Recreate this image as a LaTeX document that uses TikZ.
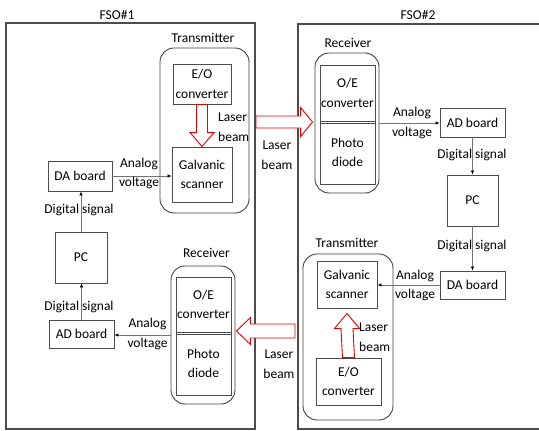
\documentclass[tikz,border=0pt]{standalone}
\usepackage{fontspec}
\setmainfont{Carlito}
\usetikzlibrary{arrows.meta,calc}
\begin{document}
\begin{tikzpicture}[x=1pt,y=-1pt,
  font=\fontsize{13.5}{19.5}\selectfont,
  frame/.style={draw=black!70,line width=1.2pt},
  box/.style={draw=black!70,line width=0.9pt,align=center,inner sep=0pt},
  rbox/.style={draw=black!75,line width=0.9pt,rounded corners=14pt,inner sep=0pt},
  lbl/.style={align=center,inner sep=0pt},
  lbll/.style={align=left,inner sep=0pt,anchor=west},
  conn/.style={draw=black!55,line width=0.6pt,-{Latex[length=4pt,width=3.5pt,black]}},
  beam/.style={draw=red!90!black,line width=0.9pt,fill=white,line join=miter}
]
\useasboundingbox (0,0) rectangle (539,431);
\clip (0,0) rectangle (539,431);

% FSO frames
\node[frame,minimum width=249,minimum height=406,inner sep=0pt] (fso1) at (130.5,226) {};
\node[frame,minimum width=260,minimum height=405,inner sep=0pt] (fso2) at (428,226.5) {};
\node[lbl] (fso1l) at (117,15) {FSO\#1};
\node[lbl] (fso2l) at (418,15) {FSO\#2};

% FSO#1 transmitter
\node[rbox,minimum width=89,minimum height=165] (tx1) at (204.5,130.5) {};
\node[lbl] (tx1l) at (203,38) {Transmitter};
\node[box,minimum width=58,minimum height=40] (eo1) at (202,84) {E/O\\converter};
\node[box,minimum width=60,minimum height=55] (galv1) at (202,174.5) {Galvanic\\scanner};

% FSO#1 left chain
\node[box,minimum width=64,minimum height=30] (da1) at (80,176) {DA board};
\node[box,minimum width=52,minimum height=51] (pc1) at (81,257.5) {PC};
\node[box,minimum width=65,minimum height=28] (ad1) at (81.5,334) {AD board};

% FSO#1 receiver
\node[rbox,minimum width=64,minimum height=138] (rx1) at (203,335) {};
\node[lbl] (rx1l) at (206.5,253) {Receiver};
\node[box,minimum width=55,minimum height=55] (oe1) at (203.5,304.5) {O/E\\converter};
\node[box,minimum width=55,minimum height=63] (pd1) at (203.5,363.5) {Photo\\diode};
\draw[draw=black!70,line width=0.9pt] ($(oe1.south west)+(0,2)$) -- ($(oe1.south east)+(0,2)$);

% FSO#2 receiver
\node[rbox,minimum width=64,minimum height=140] (rx2) at (347,123) {};
\node[lbl] (rx2l) at (348,43) {Receiver};
\node[box,minimum width=55,minimum height=56] (oe2) at (347.5,93) {O/E\\converter};
\node[box,minimum width=55,minimum height=63] (pd2) at (347.5,152.5) {Photo\\diode};
\draw[draw=black!70,line width=0.9pt] ($(oe2.south west)+(0,2)$) -- ($(oe2.south east)+(0,2)$);

% FSO#2 right chain
\node[box,minimum width=65,minimum height=29] (ad2) at (472.5,122.5) {AD board};
\node[box,minimum width=51,minimum height=51] (pc2) at (472.5,200.5) {PC};
\node[box,minimum width=65,minimum height=28] (da2) at (472.5,285) {DA board};

% FSO#2 transmitter
\node[rbox,minimum width=90,minimum height=166] (tx2) at (348,337) {};
\node[lbl] (tx2l) at (347,243) {Transmitter};
\node[box,minimum width=60,minimum height=47] (galv2) at (347,284.5) {Galvanic\\scanner};
\node[box,minimum width=65,minimum height=47] (eo2) at (348.5,381.5) {E/O\\converter};

% electrical connectors
\draw[conn] (da1.east) -- (da1.east -| galv1.west);
\draw[conn] (pc1.north) -- (pc1.north |- da1.south);
\draw[conn] (ad1.north) -- (ad1.north |- pc1.south);
\draw[conn] (rx1.west) -- (rx1.west -| ad1.east);
\draw[conn] (rx2.east) -- (rx2.east -| ad2.west);
\draw[conn] (ad2.south) -- (ad2.south |- pc2.north);
\draw[conn] (pc2.south) -- (pc2.south |- da2.north);
\draw[conn] (da2.west) -- (da2.west -| galv2.east);

% labels
\node[lbl] (av1) at (139,173.5) {Analog\\voltage};
\node[lbl] (av2) at (147.5,334) {Analog\\voltage};
\node[lbl] (av3) at (412,123) {Analog\\voltage};
\node[lbl] (av4) at (415,285.5) {Analog\\voltage};
\node[lbl] (ds1) at (79,210) {Digital signal};
\node[lbl] (ds2) at (79,307) {Digital signal};
\node[lbl] (ds3) at (472,155) {Digital signal};
\node[lbl] (ds4) at (472,246) {Digital signal};

% laser beams (hollow red arrows)
% down arrow in transmitter 1
\draw[beam] ($(eo1.south)+(-5.5,0)$) -- ($(galv1.north)+(-5.5,-14)$) -- ($(galv1.north)+(-12,-14)$)
  -- (galv1.north) -- ($(galv1.north)+(12,-14)$) -- ($(galv1.north)+(5.5,-14)$) -- ($(eo1.south)+(5.5,0)$) -- cycle;
\node[lbll] (lb1) at (218,127) {Laser\\beam};

% FSO1 -> FSO2
\coordinate (b2s) at (256,122);
\coordinate (b2e) at ($(rx2.west |- b2s)+(-2,0)$);
\draw[beam] ($(b2s)+(0,-6)$) -- ($(b2e)+(-12,-6)$) -- ($(b2e)+(-12,-14.5)$) -- (b2e)
  -- ($(b2e)+(-12,14.5)$) -- ($(b2e)+(-12,6)$) -- ($(b2s)+(0,6)$) -- cycle;
\node[lbl] (lb2) at (277,155) {Laser\\beam};

% FSO2 -> FSO1
\coordinate (b3s) at (295,331);
\coordinate (b3e) at ($(rx1.east |- b3s)+(1,0)$);
\draw[beam] ($(b3s)+(0,-7)$) -- ($(b3e)+(14,-7)$) -- ($(b3e)+(14,-13.5)$) -- (b3e)
  -- ($(b3e)+(14,13.5)$) -- ($(b3e)+(14,7)$) -- ($(b3s)+(0,7)$) -- cycle;
\node[lbl] (lb3) at (279,364) {Laser\\beam};

% up arrow in transmitter 2
\coordinate (b4e) at ($(galv2.south)+(0,5)$);
\draw[beam] ($(eo2.north)+(-6,0)$) -- ($(b4e)+(-6,15)$) -- ($(b4e)+(-12.5,15)$) -- (b4e)
  -- ($(b4e)+(12.5,15)$) -- ($(b4e)+(6,15)$) -- ($(eo2.north)+(6,0)$) -- cycle;
\node[lbll] (lb4) at (359,337) {Laser\\beam};
\end{tikzpicture}
\end{document}
